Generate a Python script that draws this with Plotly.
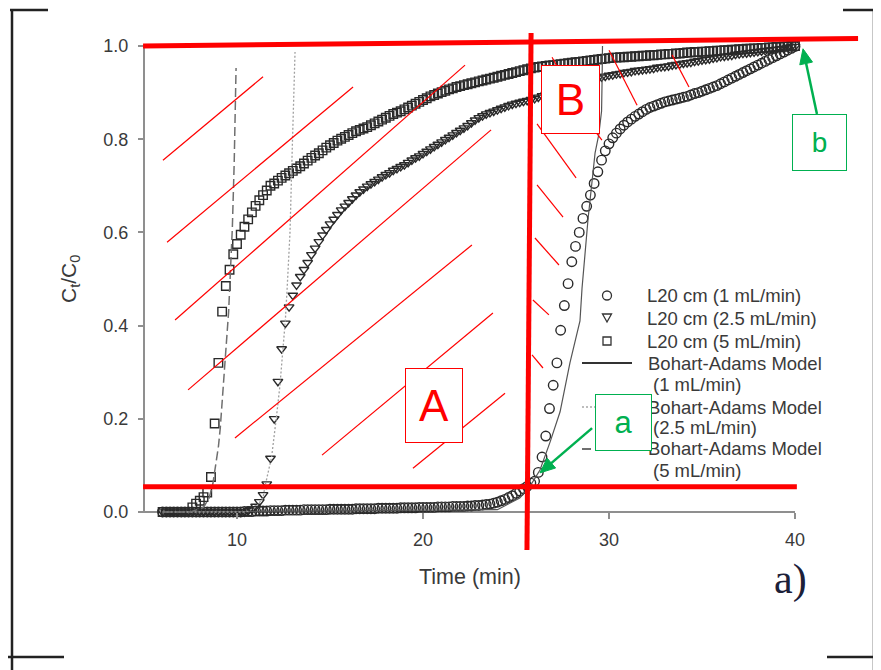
import math
import plotly.graph_objects as go

# ---------------- data ----------------
# sampling times (min), one reading every 0.2 min from 6 to 40 min
time_min = [round(6.0 + 0.2 * i, 1) for i in range(171)]

ct_1ml = [
    0.0, 0.0, 0.0, 0.0, 0.0, 0.0, 0.0, 0.0, 0.0, 0.0,
    0.0, 0.0, 0.0, 0.0, 0.0, 0.0, 0.0, 0.0, 0.0, 0.0,
    0.0, 0.0, 0.001, 0.001, 0.001, 0.002, 0.002, 0.002, 0.002, 0.003,
    0.003, 0.003, 0.003, 0.004, 0.004, 0.004, 0.004, 0.004, 0.005, 0.005,
    0.005, 0.005, 0.005, 0.005, 0.005, 0.006, 0.006, 0.006, 0.006, 0.006,
    0.006, 0.006, 0.007, 0.007, 0.007, 0.007, 0.007, 0.007, 0.008, 0.008,
    0.008, 0.008, 0.008, 0.008, 0.009, 0.009, 0.009, 0.009, 0.009, 0.010,
    0.010, 0.010, 0.010, 0.010, 0.011, 0.011, 0.011, 0.011, 0.012, 0.012,
    0.012, 0.012, 0.013, 0.013, 0.014, 0.014, 0.015, 0.016, 0.017, 0.019,
    0.021, 0.024, 0.027, 0.031, 0.035, 0.040, 0.045, 0.050, 0.055, 0.062,
    0.066, 0.085, 0.118, 0.163, 0.222, 0.272, 0.320, 0.390, 0.443, 0.490,
    0.537, 0.570, 0.600, 0.630, 0.656, 0.680, 0.705, 0.730, 0.755, 0.775,
    0.790, 0.803, 0.813, 0.822, 0.830, 0.837, 0.843, 0.849, 0.854, 0.859,
    0.864, 0.868, 0.871, 0.874, 0.877, 0.880, 0.882, 0.884, 0.886, 0.888,
    0.890, 0.892, 0.895, 0.898, 0.900, 0.903, 0.906, 0.909, 0.912, 0.915,
    0.919, 0.923, 0.927, 0.931, 0.935, 0.939, 0.943, 0.947, 0.951, 0.955,
    0.959, 0.963, 0.967, 0.971, 0.975, 0.979, 0.983, 0.987, 0.991, 0.995,
    0.999,
]

ct_2_5ml = [
    0.0, 0.0, 0.0, 0.0, 0.0, 0.0, 0.0, 0.0, 0.0, 0.0,
    0.0, 0.0, 0.0, 0.0, 0.0, 0.0, 0.0, 0.0, 0.0, 0.0,
    0.0, 0.0, 0.0, 0.003, 0.006, 0.012, 0.022, 0.037, 0.060, 0.115,
    0.200, 0.280, 0.350, 0.405, 0.440, 0.465, 0.487, 0.505, 0.520, 0.535,
    0.552, 0.566, 0.580, 0.594, 0.606, 0.618, 0.628, 0.638, 0.648, 0.656,
    0.664, 0.672, 0.680, 0.687, 0.693, 0.699, 0.704, 0.709, 0.714, 0.719,
    0.724, 0.728, 0.733, 0.737, 0.741, 0.745, 0.750, 0.755, 0.760, 0.764,
    0.769, 0.774, 0.779, 0.784, 0.789, 0.794, 0.799, 0.804, 0.809, 0.814,
    0.819, 0.824, 0.829, 0.835, 0.841, 0.846, 0.850, 0.854, 0.857, 0.860,
    0.863, 0.866, 0.869, 0.872, 0.875, 0.877, 0.879, 0.881, 0.883, 0.885,
    0.887, 0.890, 0.893, 0.896, 0.899, 0.902, 0.905, 0.908, 0.910, 0.913,
    0.915, 0.918, 0.920, 0.923, 0.925, 0.927, 0.929, 0.931, 0.933, 0.935,
    0.937, 0.938, 0.940, 0.941, 0.943, 0.944, 0.945, 0.947, 0.948, 0.949,
    0.950, 0.951, 0.952, 0.954, 0.955, 0.956, 0.957, 0.959, 0.960, 0.961,
    0.963, 0.964, 0.965, 0.967, 0.968, 0.970, 0.971, 0.972, 0.974, 0.975,
    0.977, 0.978, 0.979, 0.980, 0.982, 0.983, 0.984, 0.985, 0.986, 0.987,
    0.988, 0.989, 0.990, 0.991, 0.992, 0.993, 0.994, 0.995, 0.997, 0.998,
    0.999,
]

ct_5ml = [
    0.0, 0.0, 0.0, 0.0, 0.0, 0.0, 0.0, 0.0, 0.010, 0.018,
    0.024, 0.032, 0.042, 0.075, 0.190, 0.320, 0.430, 0.485, 0.520, 0.553,
    0.575, 0.595, 0.612, 0.628, 0.643, 0.657, 0.669, 0.680, 0.690, 0.700,
    0.705, 0.711, 0.717, 0.722, 0.727, 0.732, 0.737, 0.742, 0.748, 0.754,
    0.760, 0.765, 0.770, 0.776, 0.782, 0.787, 0.792, 0.797, 0.801, 0.805,
    0.809, 0.813, 0.817, 0.820, 0.823, 0.826, 0.830, 0.834, 0.838, 0.842,
    0.846, 0.850, 0.854, 0.857, 0.860, 0.864, 0.868, 0.872, 0.876, 0.880,
    0.884, 0.888, 0.892, 0.895, 0.898, 0.901, 0.904, 0.907, 0.909, 0.912,
    0.914, 0.916, 0.918, 0.920, 0.922, 0.924, 0.926, 0.928, 0.930, 0.932,
    0.934, 0.936, 0.938, 0.940, 0.942, 0.944, 0.946, 0.948, 0.950, 0.952,
    0.954, 0.955, 0.956, 0.957, 0.958, 0.959, 0.960, 0.961, 0.962, 0.963,
    0.964, 0.965, 0.966, 0.967, 0.968, 0.969, 0.970, 0.971, 0.972, 0.973,
    0.974, 0.975, 0.975, 0.976, 0.976, 0.977, 0.977, 0.978, 0.978, 0.979,
    0.979, 0.980, 0.980, 0.981, 0.982, 0.982, 0.983, 0.983, 0.984, 0.984,
    0.985, 0.986, 0.986, 0.987, 0.987, 0.988, 0.988, 0.989, 0.989, 0.990,
    0.990, 0.991, 0.991, 0.992, 0.992, 0.993, 0.993, 0.994, 0.994, 0.995,
    0.995, 0.996, 0.996, 0.997, 0.997, 0.998, 0.998, 0.999, 0.999, 1.000,
    1.000,
]

# Bohart-Adams model curves
model_1_t = [6.0, 24.0, 25.2, 25.75, 26.29, 26.83, 27.37, 27.9, 28.44, 28.55, 28.87, 29.25, 29.45, 29.6, 29.63, 29.65]
model_1_c = [0.0, 0.005, 0.03, 0.055, 0.09, 0.15, 0.215, 0.32, 0.41, 0.48, 0.627, 0.77, 0.81, 0.86, 0.93, 1.0]
model_2_5_t = [6.0, 10.5, 11.0, 11.4, 11.5, 11.86, 12.1, 12.3, 12.45, 12.6, 12.7, 12.85, 12.95, 13.05, 13.12]
model_2_5_c = [0.0, 0.0, 0.01, 0.03, 0.054, 0.118, 0.197, 0.268, 0.34, 0.412, 0.483, 0.6, 0.75, 0.9, 0.987]
model_5_t = [6.0, 7.5, 8.2, 8.5, 8.7, 8.9, 9.0, 9.1, 9.25, 9.4, 9.55, 9.65, 9.75, 9.85, 9.95]
model_5_c = [0.0, 0.0, 0.01, 0.03, 0.06, 0.107, 0.14, 0.18, 0.26, 0.34, 0.43, 0.52, 0.61, 0.75, 0.953]

x_ticks = [10, 20, 30, 40]
y_ticks = [0.0, 0.2, 0.4, 0.6, 0.8, 1.0]
y_tick_text = ["0.0", "0.2", "0.4", "0.6", "0.8", "1.0"]

# hand-drawn red guides (time, Ct/C0)
guide_top = [(4.95, 1.0), (43.39, 1.016)]
guide_vertical = [(25.81, 1.028), (25.59, -0.0815)]
guide_bottom = [(4.95, 0.054), (40.1, 0.054)]
hatch_A = [
    (6.02, 0.755, 11.40, 0.934),
    (6.24, 0.579, 16.24, 0.912),
    (6.67, 0.412, 22.26, 0.959),
    (7.37, 0.262, 23.66, 0.820),
    (9.89, 0.159, 22.63, 0.573),
    (14.57, 0.122, 23.76, 0.427),
    (19.46, 0.094, 24.41, 0.255),
]
hatch_B = [
    (26.94, 0.976, 27.50, 0.935),
    (26.13, 0.833, 28.23, 0.717),
    (26.13, 0.702, 27.53, 0.633),
    (26.02, 0.588, 27.31, 0.530),
    (25.91, 0.455, 26.77, 0.423),
    (25.86, 0.337, 26.45, 0.309),
    (29.00, 0.830, 29.62, 0.798),
    (30.00, 0.991, 31.51, 0.873),
    (33.39, 0.981, 34.30, 0.912),
]
# green pointers: (tail time, tail Ct/C0, tip time, tip Ct/C0)
pointers = [(29.09, 0.180, 26.29, 0.084), (41.18, 0.854, 40.43, 0.994)]

# ---------------- geometry ----------------
OFF = 8                      # page margin of the html body
W, H = 881 - OFF, 670 - OFF  # figure size so that it fills the window
X_RANGE = [4.8, 44.0]
Y_RANGE = [-0.09, 1.045]
PX_PER_MIN = 18.6
X10_PX = 237.0
Y0_PX = 512.0
PX_PER_UNIT_Y = 466.0


def xpix(v):
    return X10_PX + (v - 10) * PX_PER_MIN


def ypix(v):
    return Y0_PX - v * PX_PER_UNIT_Y


def P(px, py):
    return (px - OFF) / W, 1 - (py - OFF) / H


x_domain = [P(xpix(X_RANGE[0]), 0)[0], P(xpix(X_RANGE[1]), 0)[0]]
y_domain = [P(0, ypix(Y_RANGE[0]))[1], P(0, ypix(Y_RANGE[1]))[1]]

FONT = "Liberation Sans, Arial, sans-serif"
TXT = "#3a3a3a"
AXC = "#8f8f8f"
RED = "#ff0000"
GREEN = "#00b050"

fig = go.Figure()

mk_line = dict(width=1.4)
fig.add_trace(go.Scatter(x=time_min, y=ct_1ml, mode="markers", name="L20 cm (1 mL/min)",
                         marker=dict(symbol="circle-open", size=9.5, color="#2a2a2a", line=mk_line)))
fig.add_trace(go.Scatter(x=time_min, y=ct_2_5ml, mode="markers", name="L20 cm (2.5 mL/min)",
                         marker=dict(symbol="triangle-down-open", size=8.5, color="#2a2a2a", line=mk_line)))
fig.add_trace(go.Scatter(x=time_min, y=ct_5ml, mode="markers", name="L20 cm (5 mL/min)",
                         marker=dict(symbol="square-open", size=8.5, color="#2a2a2a", line=mk_line)))
fig.add_trace(go.Scatter(x=model_1_t, y=model_1_c, mode="lines", name="Bohart-Adams Model (1 mL/min)",
                         line=dict(color="#555555", width=1.2)))
fig.add_trace(go.Scatter(x=model_2_5_t, y=model_2_5_c, mode="lines", name="Bohart-Adams Model (2.5 mL/min)",
                         line=dict(color="#a0a0a0", width=1.3, dash="2px,2px")))
fig.add_trace(go.Scatter(x=model_5_t, y=model_5_c, mode="lines", name="Bohart-Adams Model (5 mL/min)",
                         line=dict(color="#6f6f6f", width=1.5, dash="9px,4px")))

shapes = []
# axis lines (only over the data span)
shapes.append(dict(type="line", xref="x", yref="y", x0=5, y0=0, x1=40, y1=0,
                   line=dict(color=AXC, width=2), layer="below"))
shapes.append(dict(type="line", xref="x", yref="y", x0=5, y0=0, x1=5, y1=1.0,
                   line=dict(color=AXC, width=2), layer="below"))

# red guides
for (a, b) in (guide_top, guide_vertical, guide_bottom):
    shapes.append(dict(type="line", xref="x", yref="y", x0=a[0], y0=a[1], x1=b[0], y1=b[1],
                       line=dict(color=RED, width=5), layer="above"))
for (x0, y0, x1, y1) in hatch_A + hatch_B:
    shapes.append(dict(type="line", xref="x", yref="y", x0=x0, y0=y0, x1=x1, y1=y1,
                       line=dict(color=RED, width=1.2), layer="above"))

# green pointers drawn as shaft + filled head
for (tx, ty, hx, hy) in pointers:
    ax_, ay_ = xpix(tx), ypix(ty)
    bx_, by_ = xpix(hx), ypix(hy)
    dx, dy = bx_ - ax_, by_ - ay_
    ln = math.hypot(dx, dy)
    ux, uy = dx / ln, dy / ln
    hl, hw = 15.0, 6.5
    cxp, cyp = bx_ - ux * hl, by_ - uy * hl
    nx, ny = -uy, ux
    p_tail, p_base = P(ax_, ay_), P(cxp + ux * 2, cyp + uy * 2)
    shapes.append(dict(type="line", xref="paper", yref="paper", x0=p_tail[0], y0=p_tail[1],
                       x1=p_base[0], y1=p_base[1], line=dict(color=GREEN, width=2.5), layer="above"))
    q1, q2, q3 = P(bx_, by_), P(cxp + nx * hw, cyp + ny * hw), P(cxp - nx * hw, cyp - ny * hw)
    shapes.append(dict(type="path", xref="paper", yref="paper",
                       path=f"M{q1[0]},{q1[1]} L{q2[0]},{q2[1]} L{q3[0]},{q3[1]} Z",
                       fillcolor=GREEN, line=dict(color=GREEN, width=1), layer="above"))

# page frame corner marks
for (a, b) in [((12, 10), (12, 670)), ((10, 10), (48, 10)), ((8, 657), (64, 657)),
               ((874, 10), (874, 670)), ((843, 10), (881, 10)), ((827, 657), (881, 657))]:
    pa, pb = P(*a), P(*b)
    shapes.append(dict(type="line", xref="paper", yref="paper", x0=pa[0], y0=pa[1], x1=pb[0], y1=pb[1],
                       line=dict(color="#222222", width=2.5)))

# legend glyphs
cx = 607
c0, c1 = P(cx - 4.5, 291), P(cx + 4.5, 300)
shapes.append(dict(type="circle", xref="paper", yref="paper", x0=c0[0], y0=c0[1], x1=c1[0], y1=c1[1],
                   line=dict(color="#333333", width=1.3)))
t1, t2, t3 = P(cx - 4.5, 314), P(cx + 4.5, 314), P(cx, 322)
shapes.append(dict(type="path", xref="paper", yref="paper",
                   path=f"M{t1[0]},{t1[1]} L{t2[0]},{t2[1]} L{t3[0]},{t3[1]} Z",
                   line=dict(color="#333333", width=1.3)))
s0, s1 = P(cx - 4, 337), P(cx + 4, 345)
shapes.append(dict(type="rect", xref="paper", yref="paper", x0=s0[0], y0=s0[1], x1=s1[0], y1=s1[1],
                   line=dict(color="#333333", width=1.3)))
for py, col, wd, dash in [(363, "#333333", 2.2, "solid"), (407, "#a8a8a8", 1.5, "2px,2px"),
                          (449, "#6f6f6f", 1.8, "9px,4px")]:
    l0, l1 = P(582, py), P(632, py)
    shapes.append(dict(type="line", xref="paper", yref="paper", x0=l0[0], y0=l0[1], x1=l1[0], y1=l1[1],
                       line=dict(color=col, width=wd, dash=dash)))

annotations = []
legend_rows = [
    (645, 295, "L20 cm (1 mL/min)"),
    (645, 318, "L20 cm (2.5 mL/min)"),
    (645, 341, "L20 cm (5 mL/min)"),
    (646, 363, "Bohart-Adams Model"),
    (651, 384, "(1 mL/min)"),
    (646, 407, "Bohart-Adams Model"),
    (651, 427, "(2.5 mL/min)"),
    (646, 449, "Bohart-Adams Model"),
    (651, 470, "(5 mL/min)"),
]
for px, py, txt in legend_rows:
    p = P(px, py)
    annotations.append(dict(x=p[0], y=p[1], xref="paper", yref="paper", text=txt, showarrow=False,
                            xanchor="left", yanchor="middle",
                            font=dict(family=FONT, size=18.5, color=TXT)))

# axis titles
p = P(470, 577)
annotations.append(dict(x=p[0], y=p[1], xref="paper", yref="paper", text="Time (min)", showarrow=False,
                        xanchor="center", yanchor="middle", font=dict(family=FONT, size=21.5, color=TXT)))
p = P(70, 279)
annotations.append(dict(x=p[0], y=p[1], xref="paper", yref="paper", text="C<sub>t</sub>/C<sub>0</sub>",
                        showarrow=False, textangle=-90, xanchor="center", yanchor="middle",
                        font=dict(family=FONT, size=21, color=TXT)))
# panel label
p = P(790, 579)
annotations.append(dict(x=p[0], y=p[1], xref="paper", yref="paper", text="a)", showarrow=False,
                        xanchor="center", yanchor="middle",
                        font=dict(family="Liberation Serif, Times New Roman, serif", size=42, color="#1c2038")))


def box(text, xc, yc, w, h, color, size):
    return dict(x=xc, y=yc, xref="x", yref="y", text=text, showarrow=False,
                font=dict(family=FONT, size=size, color=color),
                bgcolor="white", bordercolor=color, borderwidth=1, borderpad=0,
                width=w - 2, height=h - 2, align="center", valign="middle",
                xanchor="center", yanchor="middle")


annotations.append(box("A", 20.59, 0.2285, 58, 75, RED, 44))
annotations.append(box("B", 27.93, 0.885, 59, 69, RED, 44))
annotations.append(box("a", 30.78, 0.192, 57, 57, GREEN, 31))
annotations.append(box("b", 41.32, 0.793, 55, 57, GREEN, 28))

fig.update_layout(
    width=W, height=H,
    margin=dict(l=0, r=0, t=0, b=0),
    paper_bgcolor="white", plot_bgcolor="white",
    showlegend=False,
    shapes=shapes,
    annotations=annotations,
    xaxis=dict(range=X_RANGE, domain=x_domain, anchor="free", position=P(0, Y0_PX)[1],
               tickvals=x_ticks, ticks="outside", ticklen=6, tickwidth=1.5, tickcolor=AXC,
               showline=False, showgrid=False, zeroline=False, automargin=False,
               ticklabelstandoff=5, tickfont=dict(family=FONT, size=18, color=TXT)),
    yaxis=dict(range=Y_RANGE, domain=y_domain, anchor="free", position=P(xpix(5), 0)[0],
               tickvals=y_ticks, ticktext=y_tick_text, ticks="outside", ticklen=6, tickwidth=1.5,
               tickcolor=AXC, showline=False, showgrid=False, zeroline=False, automargin=False,
               ticklabelstandoff=6, tickfont=dict(family=FONT, size=18, color=TXT)),
)

fig.write_html("out.html")
